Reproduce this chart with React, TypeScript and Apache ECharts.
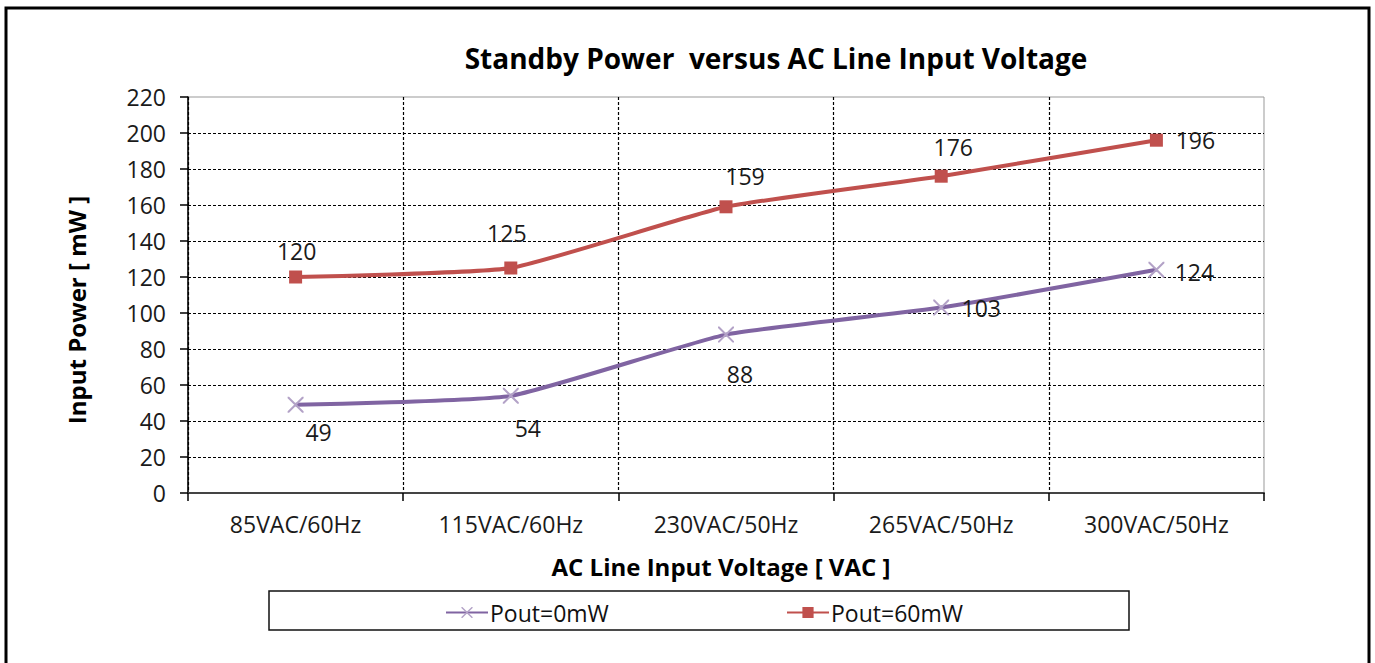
import React, { useEffect, useRef } from "react";
import * as echarts from "echarts";

const categories = ["85VAC/60Hz", "115VAC/60Hz", "230VAC/50Hz", "265VAC/50Hz", "300VAC/50Hz"];
const pout0 = [49, 54, 88, 103, 124];
const pout60 = [120, 125, 159, 176, 196];
const yTicks = { min: 0, max: 220, interval: 20 };

// label offsets (styling only)
const pout0LabelOffsets = [[23, 27], [17, 32], [14, 39], [40, 0], [38, 2]];
const pout60LabelOffsets = [[1, -26], [-4, -35], [19, -31], [12, -29], [39, 0]];

const FONT = "'Open Sans', 'Noto Sans', sans-serif";
const CROSS =
  "path://M0,0 L0.9,0 L10,9.1 L10,10 L9.1,10 L0,0.9 Z M9.1,0 L10,0 L10,0.9 L0.9,10 L0,10 L0,9.1 Z";

export default function App() {
  const ref = useRef<HTMLDivElement>(null);
  useEffect(() => {
    document.body.style.margin = "0";
    const chart = echarts.init(ref.current!, null, { renderer: "svg" });
    const nY = (yTicks.max - yTicks.min) / yTicks.interval + 1;
    const yColors = Array.from({ length: nY }, (_, i) => (i === nY - 1 ? "rgba(0,0,0,0)" : "#000"));
    const xColors = Array.from({ length: categories.length + 1 }, (_, i) =>
      i === categories.length ? "rgba(0,0,0,0)" : "#000"
    );
    const labelStyle = { show: true, position: "inside", fontSize: 23, color: "#1a1a1a", fontFamily: FONT };
    const legendText = { fontSize: 23, color: "#111", fontFamily: FONT, padding: [0, 0, 0, -3] };
    chart.setOption({
      animation: false,
      grid: {
        left: 188,
        right: 111,
        top: 97,
        bottom: 170,
        show: true,
        borderColor: "#999",
        borderWidth: 1,
        backgroundColor: "transparent",
      },
      xAxis: {
        type: "category",
        data: categories,
        boundaryGap: true,
        axisLine: { lineStyle: { color: "#444", width: 2 } },
        axisTick: { show: true, length: 8, lineStyle: { color: "#000", width: 1.5 } },
        axisLabel: { fontSize: 23, color: "#1a1a1a", margin: 19, fontFamily: FONT },
        splitLine: { show: true, lineStyle: { color: xColors, type: [3, 2], width: 1.2 } },
      },
      yAxis: {
        type: "value",
        min: yTicks.min,
        max: yTicks.max,
        interval: yTicks.interval,
        axisLine: { show: true, lineStyle: { color: "#000", width: 1.5 } },
        axisTick: { show: true, length: 8, lineStyle: { color: "#000", width: 1.5 } },
        axisLabel: { fontSize: 23, color: "#1a1a1a", margin: 22, fontFamily: FONT },
        splitLine: { show: true, lineStyle: { color: yColors, type: [3, 2], width: 1.2 } },
      },
      legend: [
        {
          data: ["Pout=0mW"],
          left: 440,
          top: 596,
          itemWidth: 42,
          itemHeight: 14,
          itemGap: 2,
          textStyle: legendText,
        },
        {
          data: ["Pout=60mW"],
          left: 781,
          top: 596,
          itemWidth: 42,
          itemHeight: 14,
          itemGap: 2,
          textStyle: legendText,
        },
      ],
      graphic: [
        {
          type: "rect",
          shape: { x: 6, y: 8, width: 1363, height: 700 },
          style: { fill: "none", stroke: "#000", lineWidth: 3 },
          silent: true,
        },
        {
          type: "rect",
          shape: { x: 269, y: 591, width: 860, height: 39 },
          style: { fill: "none", stroke: "#111", lineWidth: 1.5 },
          silent: true,
        },
        {
          type: "text",
          x: 776,
          y: 58,
          style: {
            text: "Standby Power  versus AC Line Input Voltage",
            fontSize: 28,
            fontWeight: "bold",
            fontFamily: FONT,
            fill: "#000",
            align: "center",
            verticalAlign: "middle",
          },
        },
        {
          type: "text",
          x: 721,
          y: 566,
          style: {
            text: "AC Line Input Voltage [ VAC ]",
            fontSize: 24,
            fontWeight: "bold",
            fontFamily: FONT,
            fill: "#000",
            align: "center",
            verticalAlign: "middle",
          },
        },
        {
          type: "text",
          x: 76,
          y: 310,
          rotation: Math.PI / 2,
          style: {
            text: "Input Power [ mW ]",
            fontSize: 24,
            fontWeight: "bold",
            fontFamily: FONT,
            fill: "#000",
            align: "center",
            verticalAlign: "middle",
          },
        },
      ],
      series: [
        {
          name: "Pout=0mW",
          type: "line",
          smooth: 0.15,
          symbol: CROSS,
          symbolSize: 16,
          itemStyle: { color: "#B3A2C7" },
          lineStyle: { color: "#8064A2", width: 4 },
          data: pout0.map((v, i) => ({
            value: v,
            label: { ...labelStyle, offset: pout0LabelOffsets[i] },
          })),
          z: 3,
        },
        {
          name: "Pout=60mW",
          type: "line",
          smooth: 0.15,
          symbol: "rect",
          symbolSize: 13,
          itemStyle: { color: "#C0504D" },
          lineStyle: { color: "#C0504D", width: 4 },
          data: pout60.map((v, i) => ({
            value: v,
            label: { ...labelStyle, offset: pout60LabelOffsets[i] },
          })),
          z: 4,
        },
      ],
    });
    return () => chart.dispose();
  }, []);
  return <div ref={ref} style={{ width: 1375, height: 663 }} />;
}
